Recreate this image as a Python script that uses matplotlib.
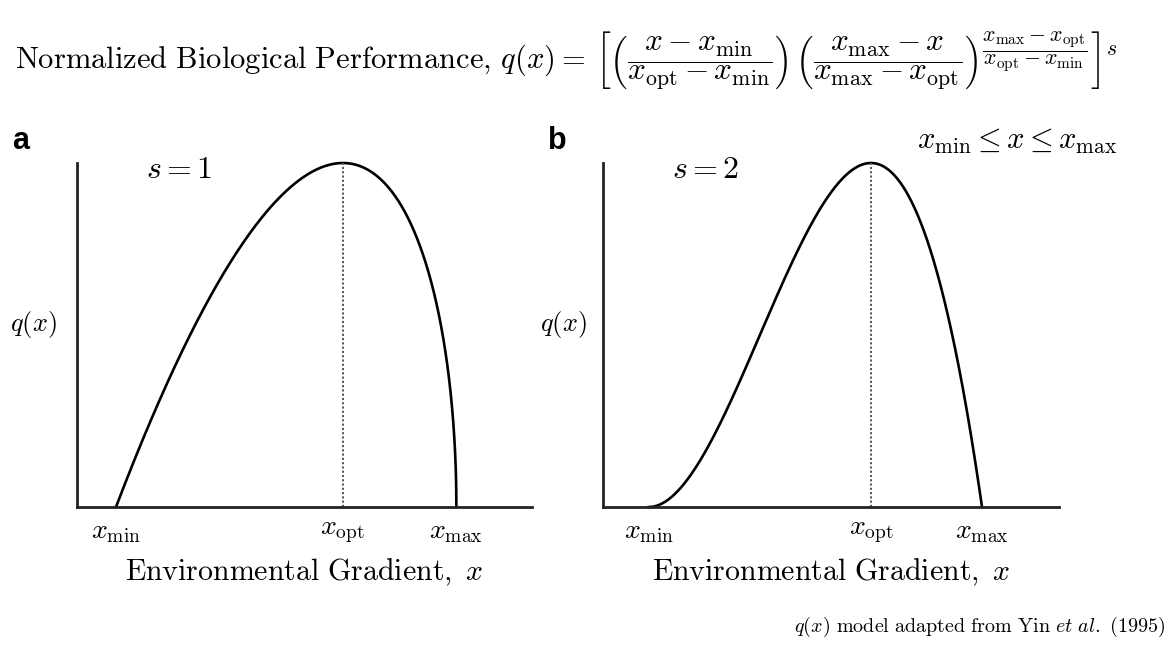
import numpy as np
import matplotlib
matplotlib.use("Agg")
import matplotlib.pyplot as plt

plt.rcParams['mathtext.fontset'] = 'cm'
plt.rcParams['font.family'] = 'DejaVu Serif'

# model parameters
X_MIN, X_OPT, X_MAX = 1.0, 7.0, 10.0
S_VALUES = [1, 2]
PANEL_LABELS = ['a', 'b']
TICK_POS = [X_MIN, X_OPT, X_MAX]
TICK_LABELS = [r'$x_{\rm min}$', r'$x_{\rm opt}$', r'$x_{\rm max}$']
XLIMS = [(-0.03, 12.0), (-0.24, 12.08)]
YLABEL_X = [-0.044, -0.035]


def yin(x, s):
    # q(x) from Yin et al. (1995)
    c = (X_MAX - X_OPT) / (X_OPT - X_MIN)
    a = np.clip((x - X_MIN) / (X_OPT - X_MIN), 0, None)
    b = np.clip((X_MAX - x) / (X_MAX - X_OPT), 0, None)
    return (a * b**c)**s


fig = plt.figure(figsize=(11.69, 6.52), dpi=100)
axes = [fig.add_axes([0.0659, 0.2224, 0.3892, 0.5276]),
        fig.add_axes([0.5158, 0.2224, 0.3901, 0.5276])]

x = np.linspace(X_MIN, X_MAX, 2000)
for ax, s, xl, yx in zip(axes, S_VALUES, XLIMS, YLABEL_X):
    ax.plot(x, yin(x, s), color='black', lw=1.9, clip_on=False)
    ax.plot([X_OPT, X_OPT], [0, 1], color='#555555', lw=1.4,
            ls=(0, (1.1, 1.1)))
    ax.set_xlim(*xl)
    ax.set_ylim(0, 1)
    for sp in ['top', 'right']:
        ax.spines[sp].set_visible(False)
    for sp in ['left', 'bottom']:
        ax.spines[sp].set_linewidth(2.0)
        ax.spines[sp].set_color('#222222')
    ax.set_yticks([])
    ax.set_xticks(TICK_POS)
    ax.set_xticklabels(TICK_LABELS, fontsize=20)
    ax.tick_params(axis='x', length=0, pad=8)
    ax.set_xlabel(r'$\mathrm{Environmental\ Gradient,}\ x$', fontsize=21.5,
                  labelpad=8)
    ax.set_ylabel(r'$q(x)$', fontsize=19, rotation=0, ha='right',
                  va='center')
    ax.yaxis.set_label_coords(yx, 0.53)
    ax.text(0.152, 0.98, r'$s = %d$' % s, transform=ax.transAxes,
            fontsize=23, va='center', ha='left')

fig.text(0.010, 0.783, PANEL_LABELS[0], fontsize=22, fontweight='bold',
         family='Liberation Sans', va='center')
fig.text(0.469, 0.783, PANEL_LABELS[1], fontsize=22, fontweight='bold',
         family='Liberation Sans', va='center')

title_text = r'$\mathrm{Normalized\ Biological\ Performance,}\,q(x) =$'
title_formula = (
    r'$\left[\left(\dfrac{x - x_{\rm min}}{x_{\rm opt} - x_{\rm min}}\right)\,'
    r'\left(\dfrac{x_{\rm max} - x}{x_{\rm max} - x_{\rm opt}}\right)'
    r'^{\dfrac{x_{\rm max} - x_{\rm opt}}{x_{\rm opt} - x_{\rm min}}}'
    r'\right]^{s}$')
fig.text(0.013, 0.8957, title_text, fontsize=22, va='baseline', ha='left')
fig.text(0.509, 0.8957, title_formula, fontsize=22.5, va='baseline',
         ha='left')

fig.text(0.9555, 0.785, r'$x_{\rm min} \leq x \leq x_{\rm max}$',
         fontsize=22, ha='right', va='center')

fig.text(0.997, 0.038,
         r'$q(x)\ \mathrm{model\ adapted\ from\ Yin}\ \mathit{et\ al.}\ \mathrm{(1995)}$',
         fontsize=14.5, ha='right', va='center')

fig.savefig('out.png', dpi=100)
